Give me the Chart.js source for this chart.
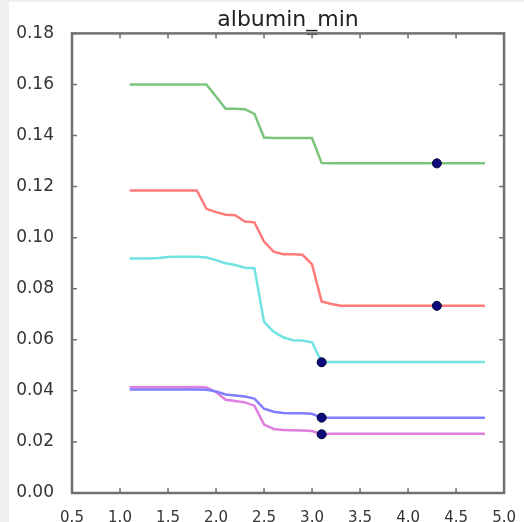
<!DOCTYPE html>
<html>
<head>
<meta charset="utf-8">
<script src="https://cdn.jsdelivr.net/npm/chart.js@4.4.0/dist/chart.umd.min.js"></script>
<style>
  body { margin: 0; background: #f0f0f0; }
  #wrap { position: absolute; left: 9px; top: 2px; width: 515px; height: 520px; background: #fff; }
</style>
</head>
<body>
<div id="wrap"><canvas id="grafico" width="515" height="520"></canvas></div>
<script>
// valores
const xVals = [1.1, 1.2, 1.3, 1.4, 1.5, 1.6, 1.7, 1.8, 1.9, 2.0,
               2.1, 2.2, 2.3, 2.4, 2.5, 2.6, 2.7, 2.8, 2.9, 3.0,
               3.1, 3.2, 3.3, 3.4, 3.5, 3.6, 3.7, 3.8, 3.9, 4.0,
               4.1, 4.2, 4.3, 4.4, 4.5, 4.6, 4.7, 4.8];

const verde = [0.160, 0.160, 0.160, 0.160, 0.160, 0.160, 0.160, 0.160, 0.160, 0.1553,
               0.1505, 0.1505, 0.1503, 0.1485, 0.1392, 0.1390, 0.1390, 0.1390, 0.1390, 0.1390,
               0.1292, 0.1291, 0.1291, 0.1291, 0.1291, 0.1291, 0.1291, 0.1291, 0.1291, 0.1291,
               0.1291, 0.1291, 0.1291, 0.1291, 0.1291, 0.1291, 0.1291, 0.1291];

const vermelho = [0.1185, 0.1185, 0.1185, 0.1185, 0.1185, 0.1185, 0.1185, 0.1185, 0.1113, 0.1100,
                  0.1090, 0.1088, 0.1063, 0.1060, 0.0985, 0.0945, 0.0935, 0.0935, 0.0933, 0.0895,
                  0.0750, 0.0740, 0.0733, 0.0733, 0.0733, 0.0733, 0.0733, 0.0733, 0.0733, 0.0733,
                  0.0733, 0.0733, 0.0733, 0.0733, 0.0733, 0.0733, 0.0733, 0.0733];

const ciano = [0.0918, 0.0918, 0.0918, 0.0920, 0.0924, 0.0925, 0.0925, 0.0925, 0.0922, 0.0912,
               0.0900, 0.0893, 0.0882, 0.0880, 0.0670, 0.0632, 0.0610, 0.0598, 0.0597, 0.0590,
               0.0512, 0.0513, 0.0513, 0.0513, 0.0513, 0.0513, 0.0513, 0.0513, 0.0513, 0.0513,
               0.0513, 0.0513, 0.0513, 0.0513, 0.0513, 0.0513, 0.0513, 0.0513];

const azul = [0.0405, 0.0405, 0.0405, 0.0405, 0.0405, 0.0405, 0.0405, 0.0405, 0.0404, 0.0398,
              0.0386, 0.0382, 0.0378, 0.0370, 0.0330, 0.0318, 0.0313, 0.0312, 0.0312, 0.0310,
              0.0295, 0.0295, 0.0295, 0.0295, 0.0295, 0.0295, 0.0295, 0.0295, 0.0295, 0.0295,
              0.0295, 0.0295, 0.0295, 0.0295, 0.0295, 0.0295, 0.0295, 0.0295];

const magenta = [0.0414, 0.0414, 0.0414, 0.0414, 0.0414, 0.0414, 0.0414, 0.0415, 0.0413, 0.0395,
                 0.0365, 0.0360, 0.0355, 0.0342, 0.0268, 0.0251, 0.0247, 0.0246, 0.0245, 0.0243,
                 0.0230, 0.0232, 0.0232, 0.0232, 0.0232, 0.0232, 0.0232, 0.0232, 0.0232, 0.0232,
                 0.0232, 0.0232, 0.0232, 0.0232, 0.0232, 0.0232, 0.0232, 0.0232];

// pontos marcados (o último fica cortado na borda de cima)
const pontosX = [4.3, 4.3, 3.1, 3.1, 3.1, 3.0];
const pontosY = [0.1291, 0.0733, 0.0512, 0.0295, 0.0230, 0.18];

const xTicks = [0.5, 1.0, 1.5, 2.0, 2.5, 3.0, 3.5, 4.0, 4.5, 5.0];
const yTicks = [0.00, 0.02, 0.04, 0.06, 0.08, 0.10, 0.12, 0.14, 0.16, 0.18];

const pares = (ys) => xVals.map((x, i) => ({ x: x, y: ys[i] }));

function serie(ys, cor) {
    return {
        data: pares(ys),
        borderColor: cor,
        borderWidth: 2.5,
        pointRadius: 0,
        tension: 0,
        order: 1
    };
}

// moldura e marcas internas, estilo matplotlib
const moldura = {
    id: 'moldura',
    afterDraw(chart) {
        const { ctx, chartArea: a, scales } = chart;
        ctx.save();
        ctx.strokeStyle = '#707070';
        ctx.lineWidth = 1.5;
        const t = 5;
        ctx.beginPath();
        xTicks.forEach(v => {
            const px = scales.x.getPixelForValue(v);
            ctx.moveTo(px, a.bottom); ctx.lineTo(px, a.bottom - t);
            ctx.moveTo(px, a.top); ctx.lineTo(px, a.top + t);
        });
        yTicks.forEach(v => {
            const py = scales.y.getPixelForValue(v);
            ctx.moveTo(a.left, py); ctx.lineTo(a.left + t, py);
            ctx.moveTo(a.right, py); ctx.lineTo(a.right - t, py);
        });
        ctx.stroke();
        ctx.lineWidth = 2.5;
        ctx.strokeRect(a.left, a.top, a.right - a.left, a.bottom - a.top);
        ctx.restore();
    }
};

const ctx = document.getElementById('grafico').getContext('2d');
const grafico = new Chart(ctx, {
    type: 'line',
    data: {
        datasets: [
            {
                type: 'scatter',
                data: pontosX.map((x, i) => ({ x: x, y: pontosY[i] })),
                backgroundColor: '#0b0b7e',
                borderColor: ['#000033', '#000033', '#000033', '#000033', '#000033', '#111111'],
                borderWidth: [1, 1, 1, 1, 1, 3],
                pointStyle: ['circle', 'circle', 'circle', 'circle', 'circle', 'line'],
                pointRadius: [4.5, 4.5, 4.5, 4.5, 4.5, 5],
                order: 0
            },
            serie(verde, '#7cc47c'),
            serie(vermelho, '#ff7b7b'),
            serie(ciano, '#72e2e2'),
            serie(azul, '#7f7fff'),
            serie(magenta, '#e07ee0')
        ]
    },
    options: {
        responsive: false,
        animation: false,
        layout: { padding: { left: 0, right: 18, top: 0, bottom: 0 } },
        plugins: {
            legend: { display: false },
            tooltip: { enabled: false },
            title: {
                display: true,
                text: 'albumin_min',
                fullSize: false,
                color: '#222',
                font: { family: 'DejaVu Sans', size: 22, weight: 'normal' },
                padding: { top: 5, bottom: 0 }
            }
        },
        scales: {
            x: {
                type: 'linear',
                min: 0.5,
                max: 5.0,
                afterBuildTicks: (s) => { s.ticks = xTicks.map(v => ({ value: v })); },
                afterFit: (s) => { s.height = 29; },
                grid: { display: false },
                border: { display: false },
                ticks: {
                    padding: 8,
                    color: '#333',
                    font: { family: 'DejaVu Sans', size: 15 },
                    maxRotation: 0,
                    callback: (v) => v.toFixed(1)
                }
            },
            y: {
                min: 0,
                max: 0.18,
                afterBuildTicks: (s) => { s.ticks = yTicks.map(v => ({ value: v })); },
                afterFit: (s) => { s.width = 63; },
                grid: { display: false },
                border: { display: false },
                ticks: {
                    padding: 10,
                    color: '#333',
                    font: { family: 'DejaVu Sans', size: 17 },
                    callback: (v) => v.toFixed(2)
                }
            }
        }
    },
    plugins: [moldura]
});
</script>
</body>
</html>
